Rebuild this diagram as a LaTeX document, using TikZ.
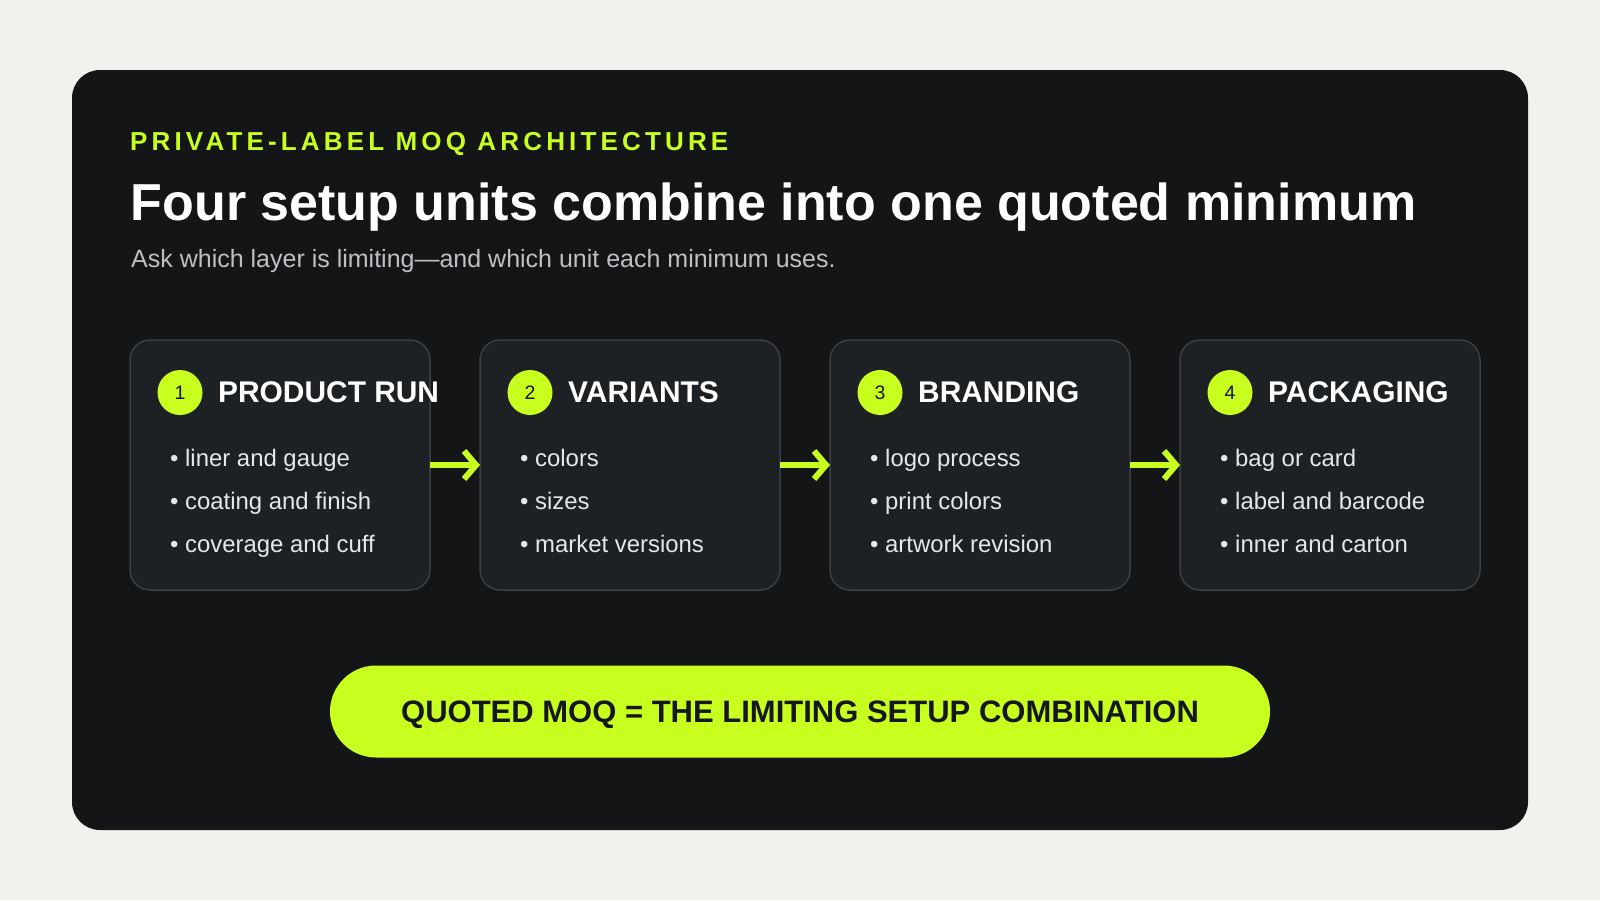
\documentclass[tikz,border=0pt]{standalone}
\usepackage{fontspec}
\setmainfont{Liberation Sans}
\usepackage{tikz}
\usetikzlibrary{positioning}
\usetikzlibrary{arrows.meta}

\definecolor{paper}{HTML}{F2F1ED}
\definecolor{card}{HTML}{131517}
\definecolor{boxfill}{HTML}{1E2124}
\definecolor{boxline}{HTML}{3B3E42}
\definecolor{lime}{HTML}{C8FF1E}
\definecolor{subgray}{HTML}{BEC0C3}
\definecolor{itemgray}{HTML}{E6E7E8}
\definecolor{ink}{HTML}{15171A}

\begin{document}
\begin{tikzpicture}[x=1pt, y=-1pt,
		unitbox/.style={
			draw=boxline,
			line width=1.5pt,
			fill=boxfill,
			rounded corners=20pt,
			minimum width=300pt,
			minimum height=250pt,
			inner sep=0pt, outer sep=0pt,
		},
		numdot/.style={circle, fill=lime, minimum size=45pt, inner sep=0pt, text=ink, font=\fontsize{19.5}{20}\selectfont},
		unithead/.style={anchor=base west, inner sep=0pt, text=white, font=\bfseries\fontsize{29.9}{30}\selectfont},
		unititem/.style={anchor=base west, inner sep=0pt, text=itemgray, font=\fontsize{23.9}{24}\selectfont},
		flow/.style={draw=lime, line width=6pt, -{Straight Barb[length=12pt, width=28pt]}},
		pill/.style={fill=lime, rounded corners=46pt, minimum width=940pt, minimum height=92pt, text height=22pt, text depth=0pt, text=ink, font=\bfseries\fontsize{31}{32}\selectfont},
	]
		\useasboundingbox (0,0) rectangle (1600,900);
		\fill[paper] (0,0) rectangle (1600,900);
		\fill[card, rounded corners=28pt] (72,70) rectangle (1528,830);
		
		% heading
		\node[anchor=base west, inner sep=0pt, text=lime, font=\bfseries\fontsize{26}{28}\selectfont\addfontfeature{LetterSpace=16}] (eyebrow) at (130,150) {PRIVATE-LABEL MOQ ARCHITECTURE};
		\node[anchor=base west, inner sep=0pt, text=white, font=\bfseries\fontsize{52}{56}\selectfont] (title) at (130.5,220) {Four setup units combine into one quoted minimum};
		\node[anchor=base west, inner sep=0pt, text=subgray, font=\fontsize{25}{26}\selectfont] (subtitle) at (131,267) {Ask which layer is limiting---and which unit each minimum uses.};
		
		% setup units
		\node[unitbox] (u1) at (280,465) {};
		\node[unitbox, right=50pt of u1] (u2) {};
		\node[unitbox, right=50pt of u2] (u3) {};
		\node[unitbox, right=50pt of u3] (u4) {};
		
		\node[numdot] (n1) at ([shift={(50,52.5)}]u1.north west) {1};
		\node[unithead] (h1) at ([shift={(38,9.5)}]n1.center) {PRODUCT RUN};
		\node[unititem] (i11) at ([shift={(40,126)}]u1.north west) {• liner and gauge};
		\node[unititem] (i12) at ([shift={(40,169)}]u1.north west) {• coating and finish};
		\node[unititem] (i13) at ([shift={(40,212.5)}]u1.north west) {• coverage and cuff};
		
		\node[numdot] (n2) at ([shift={(50,52.5)}]u2.north west) {2};
		\node[unithead] (h2) at ([shift={(38,9.5)}]n2.center) {VARIANTS};
		\node[unititem] (i21) at ([shift={(40,126)}]u2.north west) {• colors};
		\node[unititem] (i22) at ([shift={(40,169)}]u2.north west) {• sizes};
		\node[unititem] (i23) at ([shift={(40,212.5)}]u2.north west) {• market versions};
		
		\node[numdot] (n3) at ([shift={(50,52.5)}]u3.north west) {3};
		\node[unithead] (h3) at ([shift={(38,9.5)}]n3.center) {BRANDING};
		\node[unititem] (i31) at ([shift={(40,126)}]u3.north west) {• logo process};
		\node[unititem] (i32) at ([shift={(40,169)}]u3.north west) {• print colors};
		\node[unititem] (i33) at ([shift={(40,212.5)}]u3.north west) {• artwork revision};
		
		\node[numdot] (n4) at ([shift={(50,52.5)}]u4.north west) {4};
		\node[unithead] (h4) at ([shift={(38,9.5)}]n4.center) {PACKAGING};
		\node[unititem] (i41) at ([shift={(40,126)}]u4.north west) {• bag or card};
		\node[unititem] (i42) at ([shift={(40,169)}]u4.north west) {• label and barcode};
		\node[unititem] (i43) at ([shift={(40,212.5)}]u4.north west) {• inner and carton};
		
		\draw[flow] (u1) -- (u2);
		\draw[flow] (u2) -- (u3);
		\draw[flow] (u3) -- (u4);
		
		% quoted minimum
		\node[pill] (moq) at (800,711.5) {QUOTED MOQ = THE LIMITING SETUP COMBINATION};
	\end{tikzpicture}
\end{document}
